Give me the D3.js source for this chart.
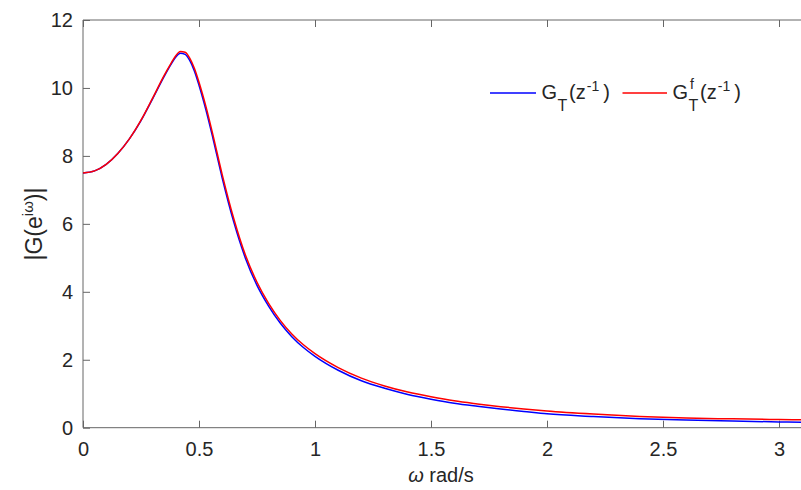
<!DOCTYPE html>
<html><head><meta charset="utf-8">
<script src="https://cdn.jsdelivr.net/npm/d3@7"></script>
<style>body{margin:0;background:#fff}svg{display:block}text{font-family:"Liberation Sans",Arial,sans-serif;fill:#262626}</style>
</head><body><svg id="c" width="801" height="490"></svg>
<script>
const omega = [0,0.05,0.10,0.15,0.20,0.25,0.30,0.35,0.38,0.40,0.42,0.44,0.46,0.48,0.50,0.53,0.56,0.60,0.65,0.70,0.75,0.80,0.85,0.90,0.95,1.00,1.10,1.20,1.30,1.40,1.50,1.60,1.70,1.80,1.90,2.00,2.20,2.40,2.60,2.80,3.00,3.1416];
const magGT = [7.50,7.56,7.75,8.07,8.50,9.04,9.68,10.34,10.70,10.91,11.02,10.99,10.81,10.50,10.08,9.35,8.52,7.35,6.05,4.99,4.19,3.58,3.08,2.68,2.36,2.10,1.69,1.38,1.16,0.98,0.84,0.72,0.63,0.55,0.48,0.41,0.33,0.265,0.225,0.195,0.17,0.16];
const magGTf = [7.50,7.56,7.75,8.07,8.50,9.05,9.70,10.37,10.73,10.95,11.07,11.05,10.88,10.58,10.17,9.45,8.62,7.45,6.15,5.08,4.28,3.66,3.16,2.76,2.44,2.18,1.77,1.46,1.23,1.05,0.91,0.79,0.70,0.62,0.55,0.49,0.40,0.33,0.285,0.26,0.24,0.23];
const xTicks = [0,0.5,1,1.5,2,2.5,3];
const yTicks = [0,2,4,6,8,10,12];

const svg = d3.select("#c");
const L=83, T=20, B=427.7;
const x = d3.scaleLinear().domain([0,Math.PI]).range([L, L+Math.PI*232]);
const y = d3.scaleLinear().domain([0,12]).range([B,T]);
const axisCol="#666";

svg.append("line").attr("x1",L).attr("x2",x(Math.PI)).attr("y1",T).attr("y2",T).attr("stroke",axisCol);
svg.append("line").attr("x1",L).attr("x2",x(Math.PI)).attr("y1",B).attr("y2",B).attr("stroke",axisCol);
svg.append("line").attr("x1",L).attr("x2",L).attr("y1",T).attr("y2",B).attr("stroke",axisCol);
svg.append("line").attr("x1",x(Math.PI)).attr("x2",x(Math.PI)).attr("y1",T).attr("y2",B).attr("stroke",axisCol);

const xa = svg.append("g").attr("transform",`translate(0,${B})`).call(d3.axisBottom(x).tickValues(xTicks).tickSize(-7).tickPadding(14).tickFormat(d3.format("~g")));
const xt = svg.append("g").attr("transform",`translate(0,${T})`).call(d3.axisTop(x).tickValues(xTicks).tickSize(-7).tickFormat(""));
const ya = svg.append("g").attr("transform",`translate(${L},0)`).call(d3.axisLeft(y).tickValues(yTicks).tickSize(-7).tickPadding(10));
[xa,xt,ya].forEach(g=>{g.select(".domain").remove();g.selectAll("line").attr("stroke",axisCol);g.selectAll("text").attr("font-size",20).attr("fill","#262626").style("font-family","Liberation Sans, Arial, sans-serif");});

const line = d3.line().x((d,i)=>x(omega[i])).y(d=>y(d)).curve(d3.curveMonotoneX);
svg.append("path").attr("d",line(magGT)).attr("fill","none").style("stroke","#0000ff").attr("stroke-width",1.5);
svg.append("path").attr("d",line(magGTf)).attr("fill","none").style("stroke","#ff0000").attr("stroke-width",1.5);

const xl = svg.append("text").attr("x",441).attr("y",482).attr("text-anchor","middle").attr("font-size",20);
xl.append("tspan").attr("font-style","italic").text("ω");
xl.append("tspan").text(" rad/s");
const yl = svg.append("text").attr("transform","translate(42,224) rotate(-90)").attr("text-anchor","middle").attr("font-size",23);
yl.append("tspan").text("|G(e");
yl.append("tspan").attr("font-size",15).attr("dy",-9).text("iω");
yl.append("tspan").attr("dy",9).text(")|");

const legY = 93;
function legendEntry(x0, x1, col, tx, sup){
  svg.append("line").attr("x1",x0).attr("x2",x1).attr("y1",legY).attr("y2",legY).style("stroke",col).attr("stroke-width",1.5);
  const g = svg.append("text").attr("x",tx).attr("y",legY+5.5).attr("font-size",20).text("G");
  const gw = g.node().getComputedTextLength();
  svg.append("text").attr("x",tx+gw+0.5).attr("y",legY+17.5).attr("font-size",16).text("T");
  if(sup) svg.append("text").attr("x",tx+gw+2).attr("y",legY-4.5).attr("font-size",14).text(sup);
  const t = svg.append("text").attr("x",tx+gw+12).attr("y",legY+5.5).attr("font-size",20);
  t.append("tspan").text("(z");
  t.append("tspan").attr("font-size",14).attr("dy",-8).attr("dx",1).text("-1");
  t.append("tspan").attr("dy",8).attr("dx",4).text(")");
}
legendEntry(490,536,"#0000ff",541.5,null);
legendEntry(622.5,667,"#ff0000",672.5,"f");
</script></body></html>
